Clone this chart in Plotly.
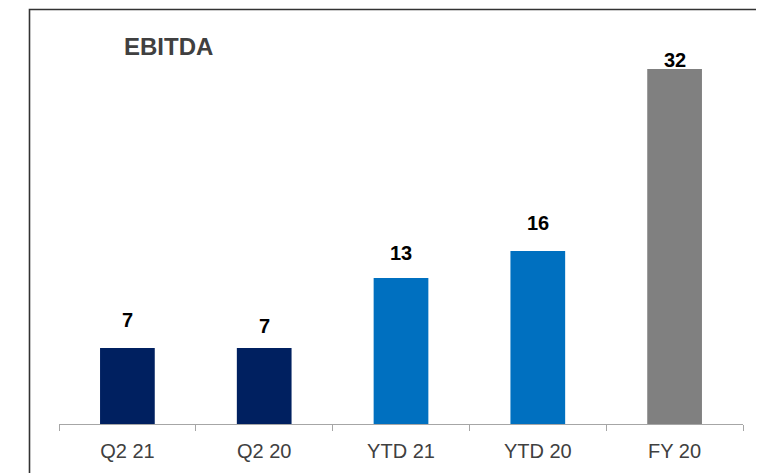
import plotly.graph_objects as go

categories = ["Q2 21", "Q2 20", "YTD 21", "YTD 20", "FY 20"]
ebitda = [6.85, 6.85, 13.16, 15.6, 32.0]
bar_colors = ["#002060", "#002060", "#0070C0", "#0070C0", "#808080"]
title_text = "EBITDA"

# style: label offsets above bar tops (pixels)
label_shift = [28, 22, 25, 28, 9]

OFF = 8  # page body margin
W, H = 764 - OFF, 473 - OFF
L, R, T, B = 59 - OFF, 21, 40 - OFF, 49
plot_w = W - L - R
plot_h = H - T - B
px_per_unit = 355 / 32.0
ymax = plot_h / px_per_unit

fig = go.Figure()
fig.add_trace(go.Bar(
    x=categories, y=ebitda,
    marker=dict(color=bar_colors, line=dict(width=0)),
    width=0.4,
    hoverinfo="x+y",
))

annotations = []
for c, v, s in zip(categories, ebitda, label_shift):
    annotations.append(dict(
        x=c, y=v, xref="x", yref="y", text=f"<b>{v:.0f}</b>", showarrow=False,
        yanchor="middle", yshift=s,
        font=dict(family="Liberation Sans, Arial, sans-serif", size=20, color="#000000"),
    ))

# convert screen pixel coordinates to paper coordinates
def px_x(p):
    return (p - OFF - L) / plot_w

def px_y(p):
    return (OFF + H - B - p) / plot_h

annotations.append(dict(
    x=px_x(122), y=px_y(46), xref="paper", yref="paper", text=f"<b>{title_text}</b>",
    showarrow=False, xanchor="left", yanchor="middle",
    font=dict(family="Liberation Sans, Arial, sans-serif", size=24, color="#404040"),
))

fig.update_layout(
    width=W, height=H,
    margin=dict(l=L, r=R, t=T, b=B),
    paper_bgcolor="white", plot_bgcolor="white",
    showlegend=False,
    annotations=annotations,
    shapes=[dict(
        type="path", xref="paper", yref="paper",
        path=f"M {px_x(29.5)},{px_y(480)} L {px_x(29.5)},{px_y(9.5)} L {px_x(770)},{px_y(9.5)}",
        line=dict(color="#333333", width=1.6),
    )],
    xaxis=dict(
        type="category", showline=True, linecolor="#a6a6a6", linewidth=1,
        ticks="outside", tickson="boundaries", ticklen=6, tickcolor="#a6a6a6",
        ticklabelstandoff=9,
        tickfont=dict(family="Liberation Sans, Arial, sans-serif", size=20, color="#404040"),
        showgrid=False, zeroline=False, fixedrange=True,
    ),
    yaxis=dict(range=[0, ymax], visible=False, showgrid=False, zeroline=False, fixedrange=True),
)

fig.write_html("out.html")
